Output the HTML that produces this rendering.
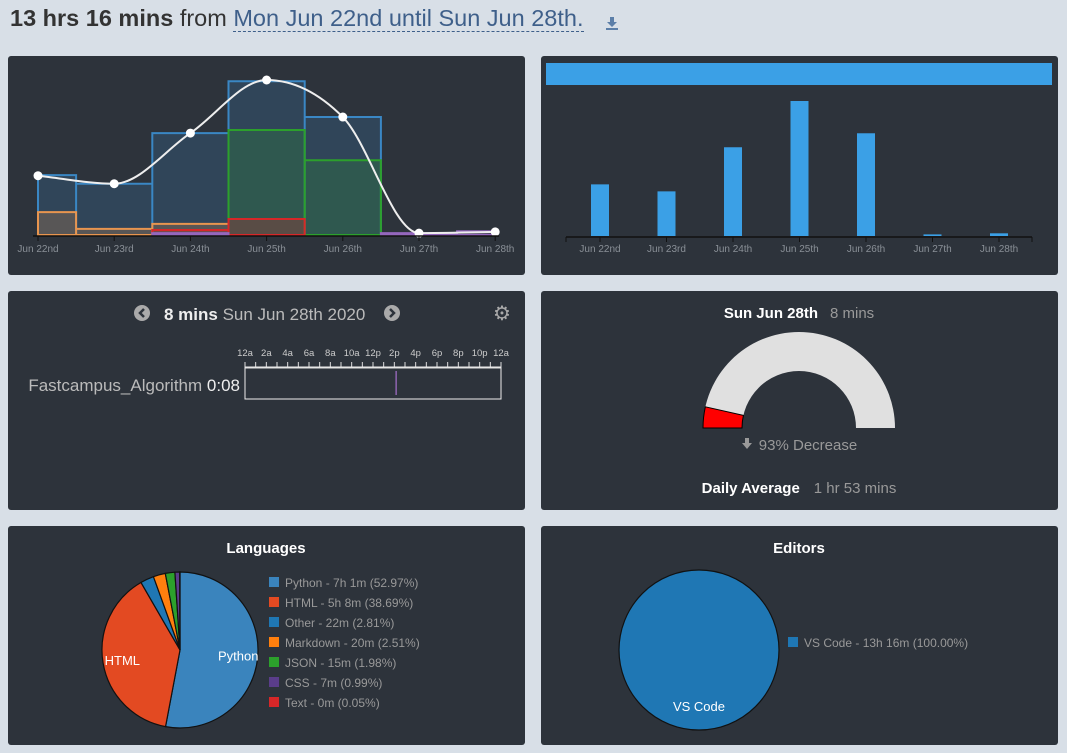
<!DOCTYPE html>
<html><head><meta charset="utf-8">
<style>
body{margin:0;width:1067px;height:753px;background:#d8dfe7;font-family:"Liberation Sans",sans-serif;overflow:hidden;position:relative}
.panel{position:absolute;background:#2d333b;border-radius:3px}
svg{position:absolute;left:0;top:0}
.t{font-family:"Liberation Sans",sans-serif}
</style></head><body>
<div style="position:absolute;left:10px;top:5px;font-size:23.5px;color:#333;white-space:nowrap">
<b>13 hrs 16 mins</b> from <span style="color:#3e5f8a;border-bottom:1px dashed #3e5f8a">Mon Jun 22nd until Sun Jun 28th.</span></div>
<svg style="left:605px;top:16px;position:absolute" width="14" height="14" viewBox="0 0 14 14"><path d="M5 1h4v5h3l-5 5-5-5h3z" fill="#5b7ea8"/><rect x="1" y="12" width="12" height="2" fill="#5b7ea8"/></svg>
<div class="panel" style="left:8px;top:56px;width:517px;height:219px"></div>
<div class="panel" style="left:541px;top:56px;width:517px;height:219px"></div>
<div class="panel" style="left:8px;top:291px;width:517px;height:219px"></div>
<div class="panel" style="left:541px;top:291px;width:517px;height:219px"></div>
<div class="panel" style="left:8px;top:526px;width:517px;height:219px"></div>
<div class="panel" style="left:541px;top:526px;width:517px;height:219px"></div>
<svg id="s" width="1067" height="753"></svg>
<script>
const days=["Jun 22nd","Jun 23rd","Jun 24th","Jun 25th","Jun 26th","Jun 27th","Jun 28th"];
const totals=[96,83,165,251,191,3,5];
const pythonMins=[97,83,165,249,191,0,0];
const htmlMins=[0,0,0,170,121,0,0];
const markdownMins=[37,10,18,0,0,0,0];
const textMins=[0,0,8,26,0,0,0];
const cssMins=[0,0,3,0,0,3,6];
const langNames=["Python","HTML","Other","Markdown","JSON","CSS","Text"];
const langPct=[52.97,38.69,2.81,2.51,1.98,0.99,0.05];
const langLabels=["Python - 7h 1m (52.97%)","HTML - 5h 8m (38.69%)","Other - 22m (2.81%)","Markdown - 20m (2.51%)","JSON - 15m (1.98%)","CSS - 7m (0.99%)","Text - 0m (0.05%)"];
const editorNames=["VS Code"];
const editorPct=[100];
const hourTicks=["12a","2a","4a","6a","8a","10a","12p","2p","4p","6p","8p","10p","12a"];
const todayMins=8, avgMins=113;
const sessionStartHour=14.1;

const S=document.getElementById('s');const NS="http://www.w3.org/2000/svg";
function el(t,a,txt){const e=document.createElementNS(NS,t);for(const k in a)e.setAttribute(k,a[k]);if(txt!==undefined)e.textContent=txt;S.appendChild(e);return e;}
// chart 1
const x1=i=>38+i*76.2, y1=v=>235-v*155/251;
const half=38.1;
function stepPath(vals){let d="";vals.forEach((v,i)=>{if(v<=0)return;const a=Math.max(38,x1(i)-half),b=Math.min(495,x1(i)+half);d+=`M${a},235L${a},${y1(v)}L${b},${y1(v)}L${b},235Z`;});return d;}
[[pythonMins,"#3a87c4","rgba(58,135,196,0.22)","python"],[htmlMins,"#2ca02c","rgba(44,160,44,0.22)","html"],[markdownMins,"#e8954f","rgba(232,149,79,0.22)","markdown"],[textMins,"#d62728","rgba(214,39,40,0.25)","text"],[cssMins,"#9467bd","rgba(148,103,189,0.3)","css"]].forEach(s=>{
 const p=el('path',{d:stepPath(s[0]),fill:s[2],stroke:s[1],'stroke-width':2});
 
 
});
// monotone cubic line
let pts=totals.map((v,i)=>[x1(i),y1(v)]);
const n=pts.length,dx=[],sl=[],m=[];
for(let i=0;i<n-1;i++){dx[i]=pts[i+1][0]-pts[i][0];sl[i]=(pts[i+1][1]-pts[i][1])/dx[i];}
m[0]=sl[0];m[n-1]=sl[n-2];
for(let i=1;i<n-1;i++){m[i]=(sl[i-1]*sl[i]<=0)?0:(sl[i-1]+sl[i])/2;}
for(let i=0;i<n-1;i++){if(sl[i]===0){m[i]=m[i+1]=0;continue;}const a=m[i]/sl[i],b=m[i+1]/sl[i],h=a*a+b*b;if(h>9){const t=3/Math.sqrt(h);m[i]=t*a*sl[i];m[i+1]=t*b*sl[i];}}
let d=`M${pts[0][0]},${pts[0][1]}`;
for(let i=0;i<n-1;i++){const h=dx[i]/3;d+=`C${pts[i][0]+h},${pts[i][1]+m[i]*h} ${pts[i+1][0]-h},${pts[i+1][1]-m[i+1]*h} ${pts[i+1][0]},${pts[i+1][1]}`;}
const ln=el('path',{d:d,fill:'none',stroke:'#eee','stroke-width':2});


pts.forEach((p,i)=>{const c=el('circle',{cx:p[0],cy:p[1],r:4.5,fill:'#fff'});

});
el('line',{x1:33,x2:499,y1:236,y2:236,stroke:'#111','stroke-width':1.5});
days.forEach((t,i)=>{el('line',{x1:x1(i),x2:x1(i),y1:236,y2:241,stroke:'#111'});
const tx=el('text',{x:x1(i),y:252,fill:'#8a9097','font-size':10,'text-anchor':'middle',class:'t'},t);

});
// chart 2
el('rect',{x:546,y:63,width:506,height:22,fill:'#3ba0e6'});
const x2=i=>600+i*66.5, y2=v=>236-v*135/251;
totals.forEach((v,i)=>{const r=el('rect',{x:x2(i)-9,y:y2(v),width:18,height:236-y2(v),fill:'#3ba0e6'});

});
el('line',{x1:566,x2:1032,y1:237,y2:237,stroke:'#111','stroke-width':1.5});
days.forEach((t,i)=>{el('line',{x1:x2(i),x2:x2(i),y1:237,y2:242,stroke:'#111'});
el('text',{x:x2(i),y:252,fill:'#8a9097','font-size':10,'text-anchor':'middle',class:'t'},t);});
el('line',{x1:566,x2:566,y1:237,y2:242,stroke:'#111'});el('line',{x1:1032,x2:1032,y1:237,y2:242,stroke:'#111'});
// timeline panel
el('circle',{cx:142,cy:313,r:8,fill:'#aaa'});
el('path',{d:'M144,309L140,313L144,317',fill:'none',stroke:'#2d333b','stroke-width':2.5});
el('circle',{cx:392,cy:313,r:8,fill:'#aaa'});
el('path',{d:'M390,309L394,313L390,317',fill:'none',stroke:'#2d333b','stroke-width':2.5});
const ht=el('text',{x:164,y:320,fill:'#ddd','font-size':17,class:'t'});ht.innerHTML='<tspan font-weight="bold" fill="#eee">8 mins</tspan><tspan fill="#bbb"> Sun Jun 28th 2020</tspan>';
el('text',{x:502,y:320,fill:'#aaa','font-size':20,'text-anchor':'middle'},'⚙');
const tx0=245,tx1=501;
hourTicks.forEach((t,i)=>{const x=tx0+i*(tx1-tx0)/12;el('text',{x:x,y:356,fill:'#ccc','font-size':9.5,'text-anchor':'middle',class:'t'},t);});
for(let i=0;i<=24;i++){const x=tx0+i*(tx1-tx0)/24;el('line',{x1:x,x2:x,y1:362,y2:368,stroke:'#ddd'});}
el('line',{x1:tx0,x2:tx1,y1:368,y2:368,stroke:'#ddd'});
el('rect',{x:tx0,y:367,width:tx1-tx0,height:32,fill:'none',stroke:'#eee'});
const sx=tx0+sessionStartHour/24*(tx1-tx0);
el('rect',{x:sx,y:371,width:Math.max(1.5,todayMins/1440*(tx1-tx0)),height:24,fill:'#8e63b0'});
const pl=el('text',{x:240,y:391,fill:'#bbb','font-size':17,'text-anchor':'end',class:'t'});pl.innerHTML='Fastcampus_Algorithm <tspan fill="#eee">0:08</tspan>';

// gauge
const gx=799,gy=428,R=96,r=57;
function arc(a0,a1){const p=(a,rr)=>[gx+rr*Math.cos(a),gy-rr*Math.sin(a)];const A=p(a0,R),B=p(a1,R),C=p(a1,r),D=p(a0,r);return `M${A}A${R},${R} 0 0 1 ${B}L${C}A${r},${r} 0 0 0 ${D}Z`;}
el('path',{d:arc(Math.PI,0),fill:'#e0e0e0'});
const frac=Math.min(1,todayMins/avgMins);
el('path',{d:arc(Math.PI,Math.PI*(1-frac)),fill:'#f00',stroke:'#000'});
const g1=el('text',{x:799,y:318,'font-size':15,'text-anchor':'middle',class:'t'});g1.innerHTML='<tspan font-weight="bold" fill="#fff">Sun Jun 28th</tspan><tspan fill="#999" dx="12">8 mins</tspan>';
el('path',{d:'M745,438h4v5h3l-5,6l-5,-6h3z',fill:'#999'});
el('text',{x:808,y:450,fill:'#999','font-size':15,'text-anchor':'middle',class:'t'},'93% Decrease');
const g2=el('text',{x:799,y:493,'font-size':15,'text-anchor':'middle',class:'t'});g2.innerHTML='<tspan font-weight="bold" fill="#fff">Daily Average</tspan><tspan fill="#999" dx="14">1 hr 53 mins</tspan>';
// pies
function pie(cx,cy,R,pcts,cols,names,labelSet){let a=-Math.PI/2;pcts.forEach((p,i)=>{const b=a+p/100*2*Math.PI;
 let path;if(p>=100){path=`M${cx-R},${cy}A${R},${R} 0 1 1 ${cx+R},${cy}A${R},${R} 0 1 1 ${cx-R},${cy}Z`;}
 else{path=`M${cx},${cy}L${cx+R*Math.cos(a)},${cy+R*Math.sin(a)}A${R},${R} 0 ${b-a>Math.PI?1:0} 1 ${cx+R*Math.cos(b)},${cy+R*Math.sin(b)}Z`;}
 const s=el('path',{d:path,fill:cols[i],stroke:'#111','stroke-width':1.2});
 
 
 if(labelSet[i]){const mm=(a+b)/2,rr=p>=100?R*0.7:R*0.75;el('text',{x:cx+rr*Math.cos(mm),y:cy+rr*Math.sin(mm)+5,fill:'#fff','font-size':13,'text-anchor':'middle',class:'t'},names[i]);}
 a=b;});}
const langCols=["#3a84bd","#e34a22","#1f77b4","#ff7f0e","#2ca02c","#5a3d8a","#d62728"];
pie(180,650,78,langPct,langCols,langNames,[1,1,0,0,0,0,0]);
el('text',{x:266,y:553,fill:'#fff','font-size':15,'font-weight':'bold','text-anchor':'middle',class:'t'},'Languages');
langLabels.forEach((t,i)=>{el('rect',{x:269,y:577+i*20,width:10,height:10,fill:langCols[i]});
const lt=el('text',{x:285,y:587+i*20,fill:'#999','font-size':12,class:'t'},t);

});
pie(699,650,80,editorPct,["#1f77b4"],editorNames,[1]);
el('text',{x:799,y:553,fill:'#fff','font-size':15,'font-weight':'bold','text-anchor':'middle',class:'t'},'Editors');
el('rect',{x:788,y:637,width:10,height:10,fill:'#1f77b4'});
el('text',{x:804,y:647,fill:'#999','font-size':12,class:'t'},'VS Code - 13h 16m (100.00%)');
</script>
</body></html>
